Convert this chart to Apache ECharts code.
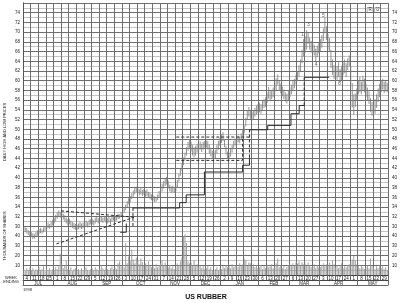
<!DOCTYPE html>
<html><head><meta charset="utf-8">
<script src="https://cdn.jsdelivr.net/npm/echarts@6/dist/echarts.min.js"></script>
<style>html,body{margin:0;padding:0;background:#fff}#c{width:400px;height:303px}</style>
</head><body><div id="c"></div>
<script>
// ---- week / month labels ----
const weekLabels = ['4','11','18','25','1','8','15','22','29','5','12','19','26','3','10','17','24','31','7','14','21','28','5','12','19','26','2','9','16','23','30','6','13','20','27','6','13','20','27','3','10','17','24','1','8','15','22','29'];
const monthNames = ['JUL','AUG','SEP','OCT','NOV','DEC','JAN','FEB','MAR','APR','MAY'];
const monthWeeks = [4,5,4,5,4,4,5,4,4,5,4];

// ---- daily highs (5 trading days per week) ----
const highs = [
30.0,29.8,29.7,29.2,29.0, 28.8,28.6,28.4,28.9,29.2, 29.5,29.7,29.4,29.8,30.1, 30.4,30.8,30.5,31.0,31.4,
31.8,32.4,32.9,33.3,33.0, 33.2,32.6,32.3,31.8,31.5, 31.6,31.2,30.9,30.7,30.5, 30.4,30.6,30.9,30.6,30.8,
31.0,31.2,30.9,31.4,31.5, 31.6,31.3,31.8,32.0,31.7, 31.9,32.1,31.8,32.2,31.9, 31.7,32.0,31.6,32.1,32.3,
32.0,32.3,32.6,32.5,33.0, 33.4,33.9,34.5,35.2,35.8, 36.3,36.8,37.4,37.9,38.2, 38.0,37.6,37.9,37.5,37.7,
37.4,37.6,37.1,36.9,36.6, 36.4,36.2,36.1,36.6,37.3, 38.0,38.8,39.4,39.8,40.2, 39.4,38.6,38.2,38.4,38.1,
38.6,39.6,40.8,42.0,43.0, 44.2,45.2,46.3,47.4,48.0, 47.4,46.8,46.3,46.6,47.0, 47.2,47.5,47.0,47.4,47.6,
47.7,47.6,46.9,46.2,45.6, 45.4,45.8,46.8,47.6,48.3, 49.0,49.4,48.0,46.6,45.4, 45.2,46.0,46.8,47.6,48.1,
48.3,48.7,48.5,49.2,50.0, 50.8,52.4,53.9,54.6,54.0, 53.6,53.8,54.4,54.9,55.2, 55.5,55.2,55.9,56.2,56.6,
57.6,58.7,57.8,58.1,58.6, 59.4,60.5,61.3,60.0,59.4, 58.8,58.2,57.6,57.3,58.0, 58.6,59.2,60.0,60.4,61.2,
62.0,63.2,64.4,66.4,68.6, 69.2,70.4,69.8,68.8,68.2, 68.0,67.4,66.6,67.2,68.0, 68.6,69.4,70.8,73.0,71.2,
69.6,68.8,66.4,64.4,63.2, 62.6,63.0,63.8,62.4,63.0, 63.8,64.4,63.6,64.6,65.2, 63.0,59.5,57.2,57.4,58.4,
60.0,60.8,59.8,61.0,60.4, 59.4,58.6,57.8,56.4,55.6, 55.0,56.2,57.2,58.4,59.4, 60.0,60.4,59.8,60.2,59.6
];
// ---- daily lows ----
const lows = [
29.0,28.8,28.5,28.2,27.9, 27.8,27.4,27.5,27.9,28.1, 28.4,28.6,28.5,28.8,29.0, 29.3,29.6,29.5,29.8,30.2,
30.6,31.0,31.6,32.0,31.8, 32.0,31.4,31.0,30.6,30.2, 30.4,30.0,29.7,29.4,29.3, 29.2,29.4,29.6,29.5,29.6,
29.9,30.1,29.8,30.2,30.4, 30.4,30.2,30.6,30.9,30.6, 30.8,31.0,30.7,31.1,30.8, 30.6,30.8,30.5,31.0,31.2,
31.0,31.2,31.5,31.6,31.9, 32.3,32.8,33.4,34.0,34.6, 35.0,35.6,36.1,36.6,37.0, 36.8,36.4,36.6,36.3,36.5,
36.1,36.2,35.9,35.6,35.4, 35.3,35.0,35.1,35.4,35.9, 36.6,37.2,37.8,38.3,38.6, 37.8,37.2,36.9,37.0,36.9,
37.2,38.0,39.2,40.4,41.4, 42.6,43.6,44.6,45.6,46.2, 45.4,44.6,44.2,44.6,45.2, 45.4,45.8,45.3,45.8,46.2,
46.2,45.9,45.0,44.4,43.9, 43.8,44.0,44.9,45.8,46.6, 47.2,47.6,46.3,44.8,43.9, 43.8,44.4,45.2,46.0,46.6,
46.8,47.3,47.1,47.8,48.4, 49.2,50.6,52.0,52.6,52.1, 51.8,52.1,52.6,53.0,53.3, 53.5,53.2,54.0,54.4,54.6,
55.4,56.3,55.8,56.2,56.6, 57.0,58.0,59.2,57.9,57.4, 56.8,56.2,55.7,55.3,56.0, 56.6,57.2,58.0,58.4,59.2,
60.0,60.8,62.0,63.6,65.0, 65.8,66.4,67.6,66.4,65.8, 65.6,65.2,63.8,64.8,65.6, 66.0,66.8,68.2,70.0,68.4,
66.4,66.0,62.6,61.2,60.4, 59.8,60.2,60.8,59.6,60.0, 61.2,61.6,60.8,62.2,63.0, 59.0,54.5,53.0,54.6,56.0,
57.2,57.6,57.2,58.0,57.6, 56.6,55.8,55.2,53.6,52.8, 52.4,53.2,54.4,55.6,56.6, 57.6,58.2,57.4,57.8,57.6
];
// ---- daily volume, thousands of shares ----
const volumes = [
6,4,7,5,8, 5,7,4,6,5, 8,5,6,9,4, 6,5,7,4,6,
5,8,6,9,22, 12,7,10,15,6, 5,8,4,6,7, 5,6,4,7,5,
6,8,5,4,6, 7,5,8,6,5, 6,10,7,5,8, 6,5,7,9,6,
8,6,12,14,9, 10,8,33,12,19, 14,26,16,12,18, 15,11,17,13,10,
12,9,14,10,8, 9,7,11,8,10, 12,15,10,13,9, 8,10,7,9,6,
8,12,10,14,18, 40,42,33,14,12, 13,10,15,9,11, 8,10,7,9,6,
7,9,6,8,5, 4,6,8,5,7, 6,9,7,10,8, 9,7,11,8,10,
10,8,12,9,11, 17,15,10,13,12, 9,11,8,10,7, 8,10,6,9,7,
10,8,9,11,7, 9,12,17,8,10, 7,9,6,8,10, 11,9,12,10,13,
12,14,10,13,11, 12,9,13,10,8, 9,11,7,10,8, 8,10,12,9,11,
10,13,9,15,11, 8,10,7,9,12, 7,9,8,10,11, 12,16,20,15,11,
9,7,10,8,6, 8,10,7,17,9, 8,6,9,7,10, 7,9,6,8,5
];

// ---- drawn study lines (day index, price) ----
const stopDays1   = [72.3,103,103,107.3,107.3,119.3,119.3,144.4,144.4,148.9,148.9];
const stopPrices1 = [33.8,33.8,34.9,34.9,36.5,36.5,41.2,41.2,42.6,42.6,44.2];
const stopDays2   = [148.9,160.9,160.9,176.2,176.2,181.6,181.6,184.9];
const stopPrices2 = [49.9,49.9,50.8,50.8,53.2,53.2,54.9,54.9];
const stopDays3   = [184.9,201.3];
const stopPrices3 = [60.7,60.7];
const bracketDays   = [63.9,67.9,67.9];
const bracketPrices = [28.8,28.8,30.6];
const triUpperDays = [25,73],   triUpperPrices = [33.2,31.9];
const triLowerDays = [22,73],   triLowerPrices = [26.4,31.9];
const brk1Days = [72.3,72.3],   brk1Prices = [33.8,29.8];
const boxTopDays = [100.8,148.9], boxTopPrices = [48.4,48.4];
const boxBotDays = [100.8,144.4,144.4], boxBotPrices = [43.6,43.6,48.4];
const brk2Days = [148.9,148.9], brk2Prices = [44.2,49.9];
const brk3Days = [184.9,184.9], brk3Prices = [54.9,60.7];

// ---- pattern point labels ----
const annoLabels = ['1','3','5','4','6'];
const annoDays   = [183.8,187.7,197.6,192.8,208];
const annoPrices = [69.5,71.5,73.5,63.4,59.4];

// ---------------------------------------------------------------
const FONT = 'Liberation Sans, Arial, sans-serif';
const GRID_DARK = '#6e6e6e';
const GRID_LIGHT = '#c4c4c4';
const nDays = highs.length;
const nWeeks = weekLabels.length;

const monthBounds = [0];
monthWeeks.forEach(w => monthBounds.push(monthBounds[monthBounds.length-1] + w));
const monthCenters = monthNames.map((m,i) => (monthBounds[i] + monthBounds[i+1]) / 2);
const weekTicks = []; for (let i = 0; i <= nWeeks; i++) weekTicks.push(i);
const weekCenters = []; for (let i = 0; i < nWeeks; i++) weekCenters.push(i + 0.5);

function seg(days, prices, dashed) {
  return {
    type: 'line', xAxisIndex: 0, yAxisIndex: 0, silent: true,
    data: days.map((d, i) => [d, prices[i]]),
    symbol: 'none', animation: false,
    lineStyle: { color: '#2a2a2a', width: 1, type: dashed ? [3, 2] : 'solid' }
  };
}

const priceLbl = v => (v >= 30 && v <= 74 && v % 2 === 0) ? String(v) : '';
const volLbl = v => (v >= 10 && v <= 40) ? String(v) : '';

const chart = echarts.init(document.getElementById('c'), null, { renderer: 'canvas' });
chart.setOption({
  animation: false,
  backgroundColor: '#fff',
  grid: { left: 23, right: 11, top: 3, bottom: 28 },
  xAxis: [
    { type: 'value', min: 0, max: nDays, interval: 5,
      axisLine: { show: false }, axisTick: { show: false }, axisLabel: { show: false },
      splitLine: { show: true, lineStyle: { color: GRID_DARK, width: 1 } } },
    { type: 'value', min: 0, max: nWeeks, position: 'bottom', offset: 0,
      axisLine: { show: true, lineStyle: { color: '#444', width: 1 } },
      axisTick: { show: true, customValues: weekTicks, length: 5, lineStyle: { color: '#666' } },
      axisLabel: { show: true, customValues: weekCenters, margin: 1, fontSize: 4.5, color: '#222', fontFamily: FONT,
        formatter: v => weekLabels[Math.floor(v)] },
      splitLine: { show: false } },
    { type: 'value', min: 0, max: nWeeks, position: 'bottom', offset: 5,
      axisLine: { show: true, lineStyle: { color: '#444', width: 1 } },
      axisTick: { show: true, customValues: monthBounds, length: 5, lineStyle: { color: '#666' } },
      axisLabel: { show: true, customValues: monthCenters, margin: 1, fontSize: 4.5, color: '#222', fontFamily: FONT,
        formatter: v => { const i = monthCenters.indexOf(v); return i >= 0 ? monthNames[i] : ''; } },
      splitLine: { show: false } },
    { type: 'value', min: 0, max: nWeeks, position: 'bottom', offset: 10,
      axisLine: { show: true, lineStyle: { color: '#666', width: 1 } },
      axisTick: { show: false }, axisLabel: { show: false }, splitLine: { show: false } }
  ],
  yAxis: [
    { type: 'value', min: 20, max: 76, interval: 1, position: 'left',
      axisLine: { show: true, lineStyle: { color: '#555' } }, axisTick: { show: false },
      axisLabel: { formatter: priceLbl, fontSize: 4.5, margin: 3, color: '#222', fontFamily: FONT },
      splitLine: { show: true, lineStyle: { color: [GRID_DARK, GRID_LIGHT], width: 1 } } },
    { type: 'value', min: 20, max: 76, interval: 1, position: 'right',
      axisLine: { show: true, lineStyle: { color: '#555' } }, axisTick: { show: false },
      axisLabel: { formatter: priceLbl, fontSize: 4.5, margin: 4, color: '#222', fontFamily: FONT },
      splitLine: { show: false } },
    { type: 'value', min: 0, max: 280, interval: 10, position: 'left',
      axisLine: { show: false }, axisTick: { show: false },
      axisLabel: { formatter: volLbl, fontSize: 4.5, margin: 3, color: '#222', fontFamily: FONT },
      splitLine: { show: false } },
    { type: 'value', min: 0, max: 280, interval: 10, position: 'right',
      axisLine: { show: false }, axisTick: { show: false },
      axisLabel: { formatter: volLbl, fontSize: 4.5, margin: 4, color: '#222', fontFamily: FONT },
      splitLine: { show: false } }
  ],
  series: [
    { type: 'custom', xAxisIndex: 0, yAxisIndex: 2, silent: true,
      data: volumes.map((v, i) => [i + 0.5, v]),
      encode: { x: 0, y: 1 },
      renderItem: (p, api) => {
        const a = api.coord([api.value(0), 0]);
        const b = api.coord([api.value(0), api.value(1)]);
        return { type: 'line', shape: { x1: a[0], y1: a[1], x2: b[0], y2: b[1] },
          style: { stroke: '#959595', lineWidth: 0.9 } };
      } },
    { type: 'custom', xAxisIndex: 0, yAxisIndex: 0, silent: true,
      data: highs.map((h, i) => [i + 0.5, lows[i], h]),
      encode: { x: 0, y: [1, 2] },
      renderItem: (p, api) => {
        const a = api.coord([api.value(0), api.value(1)]);
        const b = api.coord([api.value(0), api.value(2)]);
        return { type: 'line', shape: { x1: a[0], y1: a[1], x2: b[0], y2: b[1] },
          style: { stroke: '#7a7a7a', lineWidth: 0.8 } };
      } },
    seg(stopDays1, stopPrices1, false),
    seg(stopDays2, stopPrices2, false),
    seg(stopDays3, stopPrices3, false),
    seg(bracketDays, bracketPrices, false),
    seg(triUpperDays, triUpperPrices, true),
    seg(triLowerDays, triLowerPrices, true),
    seg(brk1Days, brk1Prices, true),
    seg(boxTopDays, boxTopPrices, true),
    seg(boxBotDays, boxBotPrices, true),
    seg(brk2Days, brk2Prices, true),
    seg(brk3Days, brk3Prices, true),
    { type: 'scatter', xAxisIndex: 0, yAxisIndex: 0, silent: true, symbolSize: 0,
      data: annoLabels.map((t, i) => ({ name: t, value: [annoDays[i], annoPrices[i]] })),
      label: { show: true, position: 'inside', formatter: '{b}', fontSize: 5, color: '#333', fontFamily: FONT } }
  ],
  graphic: [
    { type: 'text', x: 5, y: 132, rotation: Math.PI / 2,
      style: { text: 'DAILY HIGH AND LOW PRICES', fontSize: 4, fill: '#222', fontFamily: FONT, textAlign: 'center', textVerticalAlign: 'middle' } },
    { type: 'text', x: 5, y: 236, rotation: Math.PI / 2,
      style: { text: 'THOUSANDS OF SHARES', fontSize: 4, fill: '#222', fontFamily: FONT, textAlign: 'center', textVerticalAlign: 'middle' } },
    { type: 'text', x: 11, y: 277.5,
      style: { text: 'WEEK', fontSize: 4, fill: '#222', fontFamily: FONT, textAlign: 'center', textVerticalAlign: 'middle' } },
    { type: 'text', x: 11, y: 282,
      style: { text: 'ENDING', fontSize: 4, fill: '#222', fontFamily: FONT, textAlign: 'center', textVerticalAlign: 'middle' } },
    { type: 'text', x: 23, y: 290,
      style: { text: '1998', fontSize: 4, fill: '#222', fontFamily: FONT, textAlign: 'left', textVerticalAlign: 'middle' } },
    { type: 'text', x: 206, y: 297,
      style: { text: 'US RUBBER', fontSize: 7, fontWeight: 'bold', fill: '#111', fontFamily: FONT, textAlign: 'center', textVerticalAlign: 'middle' } },
    { type: 'text', x: 370, y: 10,
      style: { text: 'R', fontSize: 4.5, fill: '#333', fontFamily: FONT, textAlign: 'center', textVerticalAlign: 'middle',
        backgroundColor: '#fff', borderColor: '#666', borderWidth: 0.5, padding: [0, 1] } },
    { type: 'text', x: 377.7, y: 10,
      style: { text: 'U', fontSize: 4.5, fill: '#333', fontFamily: FONT, textAlign: 'center', textVerticalAlign: 'middle',
        backgroundColor: '#fff', borderColor: '#666', borderWidth: 0.5, padding: [0, 1] } }
  ]
});
</script></body></html>
